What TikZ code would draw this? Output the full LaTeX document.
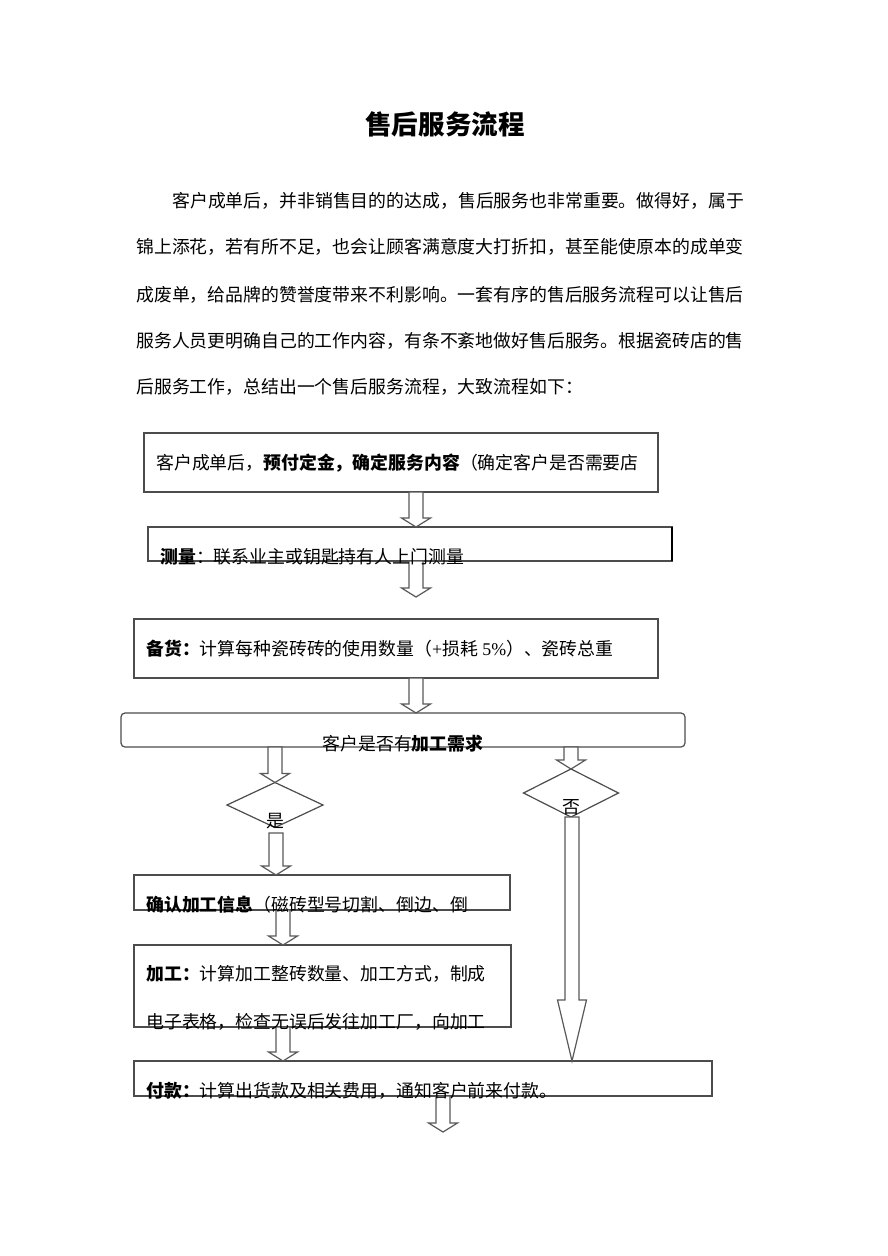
\documentclass[tikz,border=0pt]{standalone}
\usepackage{fontspec}
\setmainfont{Noto Sans CJK SC}
\newfontfamily\lserif{Liberation Serif}
\usetikzlibrary{calc,shapes.geometric}
\tikzset{
  box/.style={draw=black!70, line width=0.9pt, anchor=north west, inner sep=0pt, outer sep=0pt},
  dia/.style={diamond, draw=black!70, line width=0.9pt, inner sep=0pt, outer sep=0pt},
  arrowline/.style={draw=black!65, line width=0.9pt, fill=white, line join=miter},
  txt/.style={anchor=base west, inner sep=0pt, font=\fontsize{13.4pt}{16pt}\selectfont},
  ctxt/.style={anchor=base, inner sep=0pt, font=\fontsize{13.4pt}{16pt}\selectfont},
}
% block arrow: #1 head length, #2 x (px), #3 start, #4 end
\newcommand\barrow[4][9]{%
  \coordinate (ax) at (#2,0);
  \draw[arrowline] ($(ax |- #3)+(-7,0)$) -- ($(ax |- #4)+(-7,-#1)$)
    -- ($(ax |- #4)+(-14.5,-#1)$) -- (ax |- #4) -- ($(ax |- #4)+(14.5,-#1)$)
    -- ($(ax |- #4)+(7,-#1)$) -- ($(ax |- #3)+(7,0)$) -- cycle;
}
\begin{document}
\begin{tikzpicture}[x=0.75pt,y=-0.75pt]
\fill[white] (0,0) rectangle (888,1256);
\useasboundingbox (0,0) rectangle (888,1256);

% title and paragraph
\node[anchor=base, inner sep=0pt, font=\fontsize{19.9pt}{24pt}\selectfont\bfseries] (title) at (445,134) {售后服务流程};
\node[txt] (p1) at (172,207) {客户成单后，并非销售目的的达成，售后服务也非常重要。做得好，属于};
\node[txt] (p2) at (136,253) {锦上添花，若有所不足，也会让顾客满意度大打折扣，甚至能使原本的成单变};
\node[txt] (p3) at (136,301) {成废单，给品牌的赞誉度带来不利影响。一套有序的售后服务流程可以让售后};
\node[txt] (p4) at (136,347) {服务人员更明确自己的工作内容，有条不紊地做好售后服务。根据瓷砖店的售};
\node[txt] (p5) at (136,393) {后服务工作，总结出一个售后服务流程，大致流程如下：};

% boxes
\node[box, minimum width=514*0.75pt, minimum height=59*0.75pt] (b1) at (144,433) {};
\node[box, minimum width=524*0.75pt, minimum height=34*0.75pt] (b2) at (148,527) {};
\draw[line width=1.6pt] (b2.north east) -- (b2.south east);
\node[box, minimum width=524*0.75pt, minimum height=59*0.75pt] (b3) at (134,619) {};
\node[box, rounded corners=3pt, minimum width=564*0.75pt, minimum height=34*0.75pt] (b4) at (121,713) {};
\node[dia, minimum width=96*0.75pt, minimum height=45*0.75pt] (d1) at (275,805) {};
\node[dia, minimum width=95*0.75pt, minimum height=48*0.75pt] (d2) at (571,793) {};
\node[box, minimum width=376*0.75pt, minimum height=35*0.75pt] (b5) at (134,875) {};
\node[box, minimum width=377*0.75pt, minimum height=82*0.75pt] (b6) at (134,945) {};
\node[box, minimum width=578*0.75pt, minimum height=35*0.75pt] (b7) at (134,1061) {};

% free arrow ends
\coordinate (a2end) at (416,597);
\coordinate (a5start) at (276,833);
\coordinate (a9start) at (572,817);
\coordinate (a10end) at (443,1132);

% arrows
\barrow{416}{b1.south}{b2.north}
\barrow{416}{b2.south}{a2end}
\barrow{416}{b3.south}{b4.north}
\barrow{275}{b4.south}{d1.north}
\barrow{571}{b4.south}{d2.north}
\barrow{276}{a5start}{b5.north}
\barrow{283}{b5.south}{b6.north}
\barrow{283}{b6.south}{b7.north}
\barrow[61]{572}{a9start}{b7.north}
\barrow{443}{b7.south}{a10end}

% texts
\node[txt] (t1) at (156,469) {客户成单后，\textbf{预付定金，确定服务内容}（确定客户是否需要店};
\node[txt] (t2) at (160,563) {\textbf{测量}：联系业主或钥匙持有人上门测量};
\node[txt] (t3) at (146,655) {\textbf{备货：}计算每种瓷砖砖的使用数量（{\lserif +}损耗{\lserif\ 5\%}）、瓷砖总重};
\node[ctxt] (t4) at (403,750) {客户是否有\textbf{加工需求}};
\node[ctxt] (yes) at (275,827) {是};
\node[ctxt] (no) at (571,813) {否};
\node[txt] (t5) at (146,911) {\textbf{确认加工信息}（磁砖型号切割、倒边、倒};
\node[txt] (t6a) at (146,980) {\textbf{加工：}计算加工整砖数量、加工方式，制成};
\node[txt] (t6b) at (146,1028) {电子表格，检查无误后发往加工厂，向加工};
\node[txt] (t7) at (146,1097) {\textbf{付款：}计算出货款及相关费用，通知客户前来付款。};
\end{tikzpicture}
\end{document}
